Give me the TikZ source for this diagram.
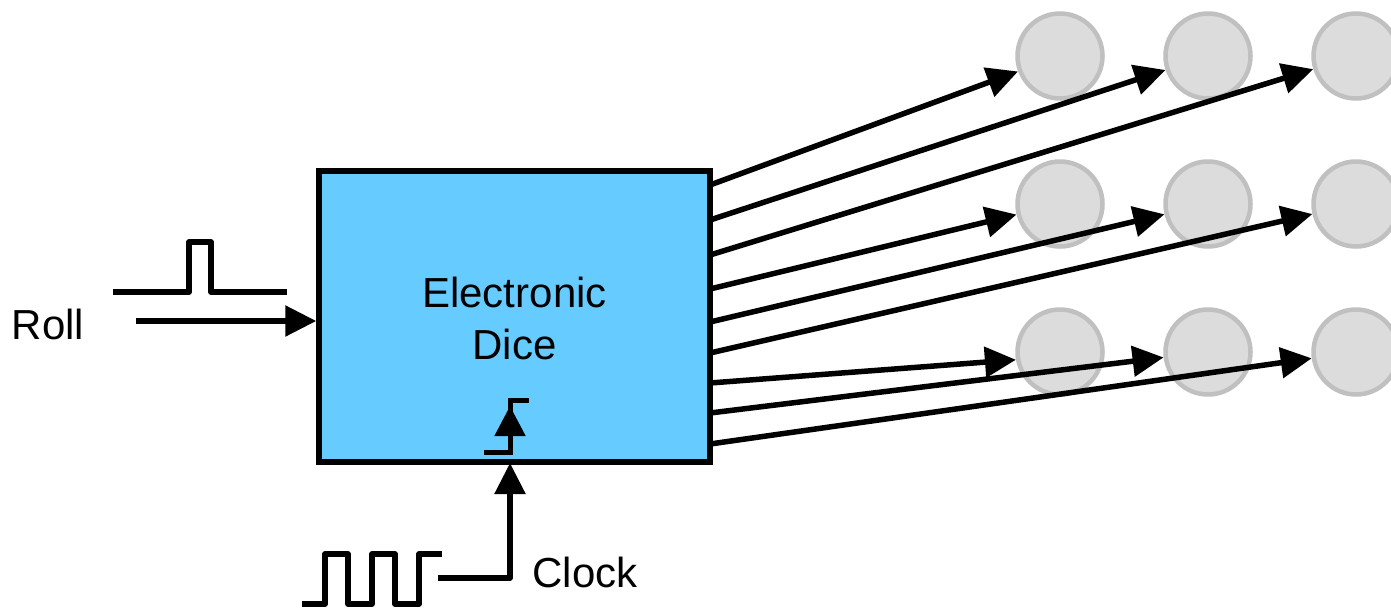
\documentclass[tikz,border=0pt]{standalone}
\usepackage{fontspec}
\setmainfont{Liberation Sans}
\usetikzlibrary{arrows.meta}
\definecolor{boxblue}{HTML}{66CCFF}
\definecolor{ledfill}{HTML}{DCDCDC}
\definecolor{ledline}{HTML}{C0C0C0}
\begin{document}
\begin{tikzpicture}[x=1pt,y=-1pt,
  bigfont/.style={font=\fontsize{42}{52}\selectfont},
  wire/.style={line width=5.5pt,line join=round},
  sig/.style={wire,-{Triangle[length=31pt,width=30pt]}},
  led/.style={circle,draw=ledline,fill=ledfill,line width=4.5pt,minimum size=85pt,inner sep=0pt},
  dice/.style={draw=black,fill=boxblue,line width=5.5pt,minimum width=391pt,minimum height=291pt,inner sep=0pt}]
\useasboundingbox (0,0) rectangle (1391,608);
% LEDs
\foreach \r/\y in {1/56,2/204,3/352}{
  \foreach \c/\x in {1/1060,2/1208,3/1356}{
    \node[led] (L\r\c) at (\x,\y) {};
  }
}
% main box
\node[dice] (box) at (514.5,316.5) {};
\node[align=center,bigfont] (title) at (514.5,318) {Electronic\\Dice};
% outputs
\coordinate (o1) at (710,185);
\coordinate (o2) at (710,220);
\coordinate (o3) at (710,255);
\coordinate (o4) at (710,289);
\coordinate (o5) at (710,322);
\coordinate (o6) at (710,353);
\coordinate (o7) at (710,383);
\coordinate (o8) at (710,413);
\coordinate (o9) at (710,444);
\draw[sig] (o1) -- (L11);
\draw[sig] (o2) -- (L12);
\draw[sig] (o3) -- (L13);
\draw[sig] (o4) -- (L21);
\draw[sig] (o5) -- (L22);
\draw[sig] (o6) -- (L23);
\draw[sig] (o7) -- (L31.190);
\draw[sig] (o8) -- (L32);
\draw[sig] (o9) -- (L33);
% Roll input
\node[bigfont] (roll) at (48,324) {Roll};
\coordinate (rin) at (136,321);
\coordinate (rbox) at (box.west |- rin);
\draw[sig] (rin) -- (rbox);
\draw[wire] (113,292) -- (189,292) -- (189,242) -- (211,242) -- (211,292) -- (287,292);
% clock edge symbol
\coordinate (ck) at (510,463);
\draw[line width=5pt,line join=miter] (484,452) -- (510,452) -- (510,400) -- (529,400);
\draw[line width=5pt,-{Triangle[length=30pt,width=30pt]}] (510,448) -- (510,406);
% clock input
\node[bigfont] (clk) at (585,572) {Clock};
\coordinate (cin) at (438,578);
\draw[sig] (cin) -- (510,578) -- (ck);
\draw[wire] (302,604) -- (325,604) -- (325,554) -- (348,554) -- (348,604) -- (372,604) -- (372,554) -- (395,554) -- (395,604) -- (419,604) -- (419,554) -- (442,554);
\end{tikzpicture}
\end{document}
